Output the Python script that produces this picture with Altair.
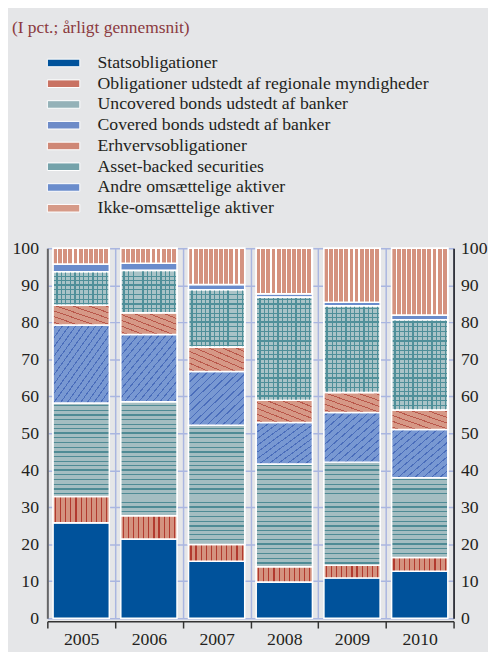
import math
import altair as alt
import pandas as pd

subtitle = "(I pct.; årligt gennemsnit)"
years = ["2005", "2006", "2007", "2008", "2009", "2010"]
categories = [
    "Statsobligationer",
    "Obligationer udstedt af regionale myndigheder",
    "Uncovered bonds udstedt af banker",
    "Covered bonds udstedt af banker",
    "Erhvervsobligationer",
    "Asset-backed securities",
    "Andre omsættelige aktiver",
    "Ikke-omsættelige aktiver",
]
stats = [25.8, 21.4, 15.4, 9.8, 10.9, 12.7]
regional = [7.1, 6.3, 4.5, 4.1, 3.4, 3.7]
uncovered = [25.3, 30.8, 32.3, 27.8, 27.9, 21.6]
covered = [21.1, 18.2, 14.5, 11.2, 13.4, 13.0]
erhverv = [5.3, 5.9, 6.6, 6.0, 5.4, 5.3]
abs_sec = [9.1, 11.4, 15.5, 27.9, 23.4, 24.4]
andre = [2.1, 2.0, 1.4, 0.9, 1.0, 1.3]
ikke = [4.2, 4.0, 9.8, 12.3, 14.6, 18.0]
colors = ["#00529b", "#c97262", "#94b2b8", "#6d8bc8", "#cf8775", "#74a2aa", "#6a8ccc", "#d69a88"]

series = [stats, regional, uncovered, covered, erhverv, abs_sec, andre, ikke]
rows = []
for ci, (cat, vals) in enumerate(zip(categories, series)):
    for y, v in zip(years, vals):
        rows.append({"year": y, "category": cat, "idx": ci, "value": v})
df = pd.DataFrame(rows)

FONT = "Liberation Serif"
TXT = "#231f20"
GRID = "#aab6e0"
PLOT_W, PLOT_H = 413, 376
PX = PLOT_H / 100.0          # pixels per percentage point
BAR_W = PLOT_W / len(years) * 0.83
CLEAR = "rgba(0,0,0,0)"


# ---------- decorative hatch fills (gradients), not data ----------
def gradient(base, lines, coords):
    stops = [alt.GradientStop(offset=0, color=base)]
    for fa, fb, col in sorted(lines):
        fa, fb = max(0.0, fa), min(1.0, fb)
        if fb <= fa:
            continue
        stops += [alt.GradientStop(offset=fa, color=base), alt.GradientStop(offset=fa, color=col),
                  alt.GradientStop(offset=fb, color=col), alt.GradientStop(offset=fb, color=base)]
    stops.append(alt.GradientStop(offset=1, color=base))
    x1, y1, x2, y2 = coords
    return alt.Gradient(gradient="linear", x1=x1, y1=y1, x2=x2, y2=y2, stops=stops)


def vstripes(base, col, first, step, width, thick_every=0, thick_w=2.0):
    lines = []
    k = 0
    p = first
    while p < BAR_W:
        w = thick_w if (thick_every and k % thick_every == 0) else width
        lines.append(((p - w / 2) / BAR_W, (p + w / 2) / BAR_W, col))
        k += 1
        p += step
    return gradient(base, lines, (0, 0, 1, 0))


def hstripes(base, col, lo, hi, step=1.25, every=4):
    H = (hi - lo) * PX
    lines = []
    k = int(lo // step) + 1
    while k * step < hi:
        v = k * step
        if v - lo > 0.3 and hi - v > 0.3:
            w = 2.0 if k % every == 0 else 1.0
            c = (hi - v) * PX
            lines.append(((c - w / 2) / H, (c + w / 2) / H, col))
        k += 1
    return gradient(base, lines, (0, 0, 0, 1))


def diag(base, col, lo, hi, rising, spacing=5.5, lw=1.0):
    H = (hi - lo) * PX
    g = 0.5 * math.sqrt(1 / BAR_W ** 2 + 1 / H ** 2)
    dt, wt = spacing * g, lw * g
    lines = []
    t = dt / 2
    while t < 1:
        lines.append((t - wt / 2, t + wt / 2, col))
        t += dt
    coords = (0, 0, 1, 1) if rising else (0, 1, 1, 0)
    return gradient(base, lines, coords)


bounds = {}
for yi, yr in enumerate(years):
    s = 0.0
    for ci, vals in enumerate(series):
        bounds[(ci, yr)] = (s, s + vals[yi])
        s += vals[yi]


def per_year_fill(ci, make):
    cond = [{"test": f"datum.year === '{yr}'",
             "value": make(*bounds[(ci, yr)]).to_dict()} for yr in years]
    return alt.value(CLEAR, condition=cond)


base = alt.Chart(df).transform_stack(
    stack="value", groupby=["year"], as_=["y0", "y1"],
    sort=[alt.SortField("idx", order="ascending")],
)

x_enc = alt.X(
    "year:N", title=None,
    scale=alt.Scale(paddingInner=0, paddingOuter=0),
    axis=alt.Axis(
        orient="bottom", tickBand="extent", grid=True, gridColor=GRID, gridWidth=1.5,
        domainColor="#333333", domainWidth=1.5, tickColor="#333333", tickSize=7,
        tickWidth=1.5, offset=3, labelPadding=3, labelFont=FONT, labelFontSize=18,
        labelColor=TXT, labelAngle=0,
    ),
)
yscale = alt.Scale(domain=[0, 100], nice=False)

bars = base.mark_bar(width=alt.RelativeBandSize(0.83), stroke="white", strokeWidth=1.5).encode(
    x=x_enc,
    y=alt.Y("y0:Q", scale=yscale, title=None, axis=alt.Axis(
        orient="left", values=list(range(0, 101, 10)), grid=True, gridColor=GRID,
        gridWidth=1.5, domainColor="#666666", domainWidth=2, ticks=False,
        labelPadding=9, labelFont=FONT, labelFontSize=18, labelColor=TXT,
    )),
    y2="y1:Q",
    color=alt.Color("category:N", scale=alt.Scale(domain=categories, range=colors),
                    legend=alt.Legend(
                        orient="none", legendX=7.5, legendY=-197.5, title=None,
                        symbolType="M-3.3,-0.77H3.3V0.77H-3.3Z", symbolSize=100,
                        symbolStrokeColor="white", symbolStrokeWidth=1,
                        labelOffset=25.5, rowPadding=3.1, labelFont=FONT,
                        labelFontSize=18, labelColor=TXT, padding=0, labelLimit=0,
                        symbolOpacity=1,
                    )),
)


def overlay(ci, fill):
    return base.transform_filter(alt.datum.idx == ci).mark_bar(
        width=alt.RelativeBandSize(0.83), stroke="white", strokeWidth=1.5,
    ).encode(
        x=x_enc,
        y=alt.Y("y0:Q", scale=yscale, axis=None),
        y2="y1:Q",
        fill=fill,
    )


ikke_ov = overlay(7, alt.value(vstripes("#d4927f", "#ffffff", 4.6, 5.2, 1.3)))
reg_ov = overlay(1, alt.value(vstripes("#d4927f", "#b23a2f", 2.5, 5.2, 1.2)))
unc_ov = overlay(2, per_year_fill(2, lambda lo, hi: hstripes("#a4bdc1", "#4f8b95", lo, hi)))
cov_ov = overlay(3, per_year_fill(3, lambda lo, hi: diag("#7898d2", "#4a6dbb", lo, hi, True)))
erh_ov = overlay(4, per_year_fill(4, lambda lo, hi: diag("#d69886", "#b9574a", lo, hi, False)))
abs_h = overlay(5, per_year_fill(5, lambda lo, hi: hstripes("#a9c3c7", "#4f8f99", lo, hi)))
abs_v = overlay(5, alt.value(vstripes(CLEAR, "#4f8f99", 3.6, 4.625, 1.0, 4, 2.0)))

right = base.mark_bar(opacity=0, width=alt.RelativeBandSize(0.83)).encode(
    x=x_enc,
    y=alt.Y("y0:Q", scale=yscale, title=None, axis=alt.Axis(
        orient="right", values=list(range(0, 101, 10)), grid=False,
        domainColor="#111111", domainWidth=1.5, ticks=False, labelPadding=7,
        labelFont=FONT, labelFontSize=18, labelColor=TXT,
    )),
    y2="y1:Q",
)

title = alt.Chart(pd.DataFrame({"t": [subtitle]})).mark_text(
    align="left", baseline="alphabetic", font=FONT, fontSize=17.7, color="#8b3a40",
).encode(text="t:N", x=alt.value(-36), y=alt.value(-218.7))

chart = alt.layer(bars, ikke_ov, reg_ov, unc_ov, cov_ov, erh_ov, abs_h, abs_v, right, title).resolve_axis(
    y="independent"
).properties(
    width=PLOT_W, height=PLOT_H,
    autosize=alt.AutoSizeParams(type="none"),
    padding={"left": 40, "top": 239, "right": 35, "bottom": 29},
    background="#e5e6e8",
).configure_view(stroke=None)

chart.save("out.html", embed_options={"renderer": "svg", "actions": False})
